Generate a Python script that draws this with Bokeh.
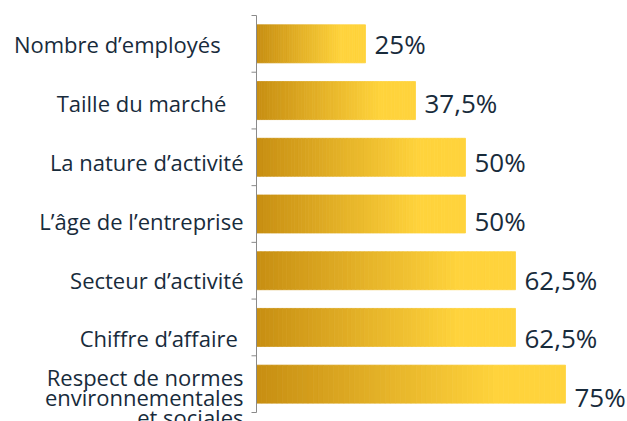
import numpy as np
from bokeh.plotting import figure
from bokeh.models import Range1d, ColumnDataSource
from bokeh.core.properties import value
from bokeh.embed import file_html
from bokeh.resources import INLINE

# ---- data (top to bottom) ----
categories = [
    "Nombre d’employés",
    "Taille du marché",
    "La nature d’activité",
    "L’âge de l’entreprise",
    "Secteur d’activité",
    "Chiffre d’affaire",
    "Respect de normes\nenvironnementales\net sociales",
]
values = [25, 37.5, 50, 50, 62.5, 62.5, 75]
value_labels = ["25%", "37,5%", "50%", "50%", "62,5%", "62,5%", "75%"]

# ---- style ----
label_pad = [4, 3, 0, 0, 0, 1, 0]          # trailing spaces in the original labels
BASE = -2.25                                # value-axis baseline
PX_PER_UNIT = 4.0
BAR_H = 0.67
N_SLICES = 60
GRAD_END = 0.78
C0 = np.array([199, 142, 18])
C1 = np.array([255, 211, 60])
TEXT = "#182B3B"
AXIS = "#8A8A8A"
LINE_SP = 20
TICK_LEN = 5
DRIFT = 2.2                  # labels sit progressively lower in the original layout (px per row)
W, H = 627, 421
AXIS_X = 256                 # pixel position of the category axis
PLOT_TOP, PLOT_BOTTOM = 15, 412

n = len(categories)
centers = [n - i - 0.5 for i in range(n)]
px_per_cat = (PLOT_BOTTOM - PLOT_TOP) / n

x0 = BASE - AXIS_X / PX_PER_UNIT
y_lo = -(H - PLOT_BOTTOM) / px_per_cat
y_hi = n + PLOT_TOP / px_per_cat

p = figure(width=W, height=H, output_backend="svg", toolbar_location=None,
           x_range=Range1d(x0, x0 + W / PX_PER_UNIT), y_range=Range1d(y_lo, y_hi),
           min_border=0)
p.outline_line_color = None
p.xgrid.visible = False
p.ygrid.visible = False
p.xaxis.visible = False
p.yaxis.visible = False
p.background_fill_color = "white"
p.border_fill_color = "white"

# gradient bars: each bar split into thin slices
L, R, B, T, COL = [], [], [], [], []
for yc, v in zip(centers, values):
    edges = np.linspace(BASE, v, N_SLICES + 1)
    for k in range(N_SLICES):
        t = min(((k + 0.5) / N_SLICES) / GRAD_END, 1.0)
        c = (C0 + (C1 - C0) * t).round().astype(int)
        L.append(edges[k]); R.append(edges[k + 1])
        B.append(yc - BAR_H / 2); T.append(yc + BAR_H / 2)
        COL.append("#%02x%02x%02x" % tuple(c))
src = ColumnDataSource(dict(left=L, right=R, bottom=B, top=T, color=COL))
p.quad(left="left", right="right", bottom="bottom", top="top", source=src,
       fill_color="color", line_color="color", line_width=0.8)

# category axis line and boundary ticks
p.segment(x0=[BASE], x1=[BASE], y0=[0], y1=[n], line_color=AXIS, line_width=1)
bounds = list(range(0, n + 1))
p.segment(x0=[BASE - TICK_LEN / PX_PER_UNIT] * len(bounds), x1=[BASE] * len(bounds),
          y0=bounds, y1=bounds, line_color=AXIS, line_width=1)

# value labels
p.text(x=values, y=centers, text=value_labels, x_offset=9,
       y_offset=[DRIFT * i for i in range(n)],
       text_font=value("Open Sans"), text_font_size="26px", text_color=TEXT,
       text_align="left", text_baseline="middle")

# category labels (right-aligned, one row per text line)
lx, ly, lt, lyo = [], [], [], []
for i, (yc, lab, pad) in enumerate(zip(centers, categories, label_pad)):
    lines = lab.split("\n")
    m = len(lines)
    for j, line in enumerate(lines):
        txt = line + ("\u00a0" * pad if j == m - 1 else "")
        lx.append(BASE); ly.append(yc); lt.append(txt)
        lyo.append((j - (m - 1) / 2) * LINE_SP + DRIFT * i)
lsrc = ColumnDataSource(dict(x=lx, y=ly, text=lt, yo=lyo))
p.text(x="x", y="y", text="text", y_offset="yo", x_offset=-13, source=lsrc,
       text_font=value("Open Sans"), text_font_size="22px", text_color=TEXT,
       text_align="right", text_baseline="middle")

open("out.html", "w").write(file_html(p, INLINE))
